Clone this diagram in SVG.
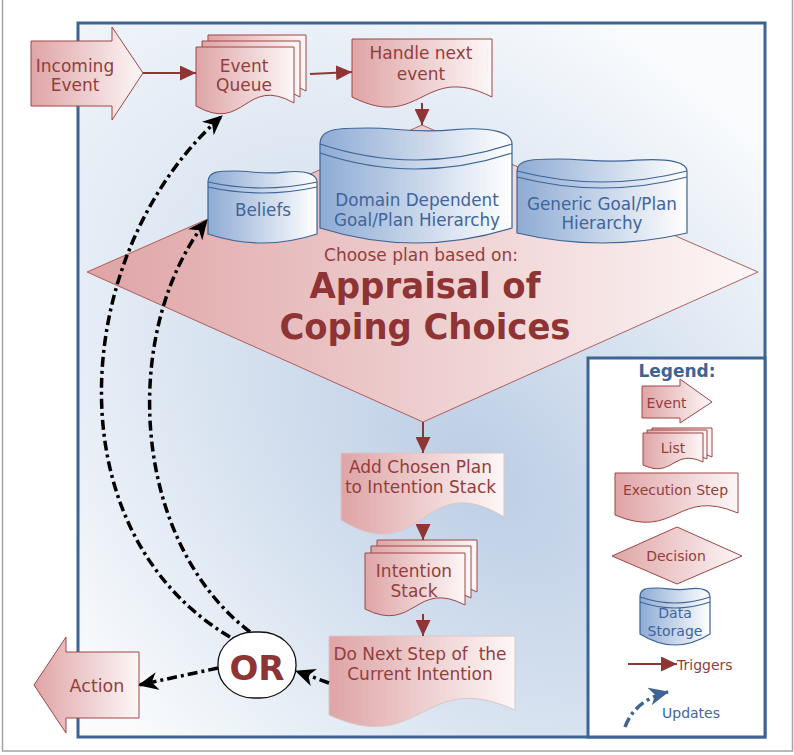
<svg xmlns="http://www.w3.org/2000/svg" width="794" height="755" viewBox="0 0 794 755">
  <style>
    .rf { fill: url(#redGrad); stroke: #9e4646; stroke-width: 1; }
    .rs { fill: url(#redGrad); stroke: #d8c6c8; stroke-width: 1; }
    .bf { fill: url(#blueGrad); stroke: #3d6494; stroke-width: 1.2; }
    .bl { fill: none; stroke: #3d6494; stroke-width: 1.2; }
    .t { font-family: "DejaVu Sans", Verdana, sans-serif; font-size: 17px; fill: #933e3e; text-anchor: middle; }
    .tb { fill: #3f659a; font-size: 16.8px; }
    .tl { font-size: 14px; }
    .big { font-family: "DejaVu Sans Condensed", "DejaVu Sans", sans-serif; font-stretch: condensed; font-size: 35px; font-weight: bold; fill: #8e3434; }
    .trig { fill: none; stroke: #8f3535; stroke-width: 2; marker-end: url(#trigHead); }
    .upd { fill: none; stroke: #000; stroke-width: 3.5; stroke-dasharray: 10 4 3 4; marker-end: url(#updHead); }
  </style>
  <defs>
    <linearGradient id="redGrad" x1="0" y1="0" x2="1" y2="0">
      <stop offset="0" stop-color="#dfa4a6"/>
      <stop offset="1" stop-color="#fdf7f7"/>
    </linearGradient>
    <linearGradient id="blueGrad" x1="0" y1="0" x2="1" y2="0">
      <stop offset="0" stop-color="#8eabd4"/>
      <stop offset="1" stop-color="#ffffff"/>
    </linearGradient>
    <radialGradient id="bgGrad" gradientUnits="userSpaceOnUse" cx="0" cy="0" r="1" gradientTransform="translate(480,470) rotate(45) scale(700,430)">
      <stop offset="0" stop-color="#bccee5"/>
      <stop offset="1" stop-color="#f9fbfd"/>
    </radialGradient>
    <marker id="trigHead" markerUnits="userSpaceOnUse" viewBox="0 0 16 15" markerWidth="16" markerHeight="15" refX="16" refY="7.5" orient="auto">
      <path d="M0,0 L16,7.5 L0,15 Z" fill="#8f3535"/>
    </marker>
    <marker id="updHead" markerUnits="userSpaceOnUse" viewBox="0 0 20 18" markerWidth="20" markerHeight="18" refX="19" refY="9" orient="auto">
      <path d="M0,0 L20,9 L0,18 L6,9 Z" fill="#000"/>
    </marker>
    <marker id="updHeadBlue" markerUnits="userSpaceOnUse" viewBox="0 0 20 18" markerWidth="20" markerHeight="18" refX="19" refY="9" orient="auto">
      <path d="M0,0 L20,9 L0,18 L6,9 Z" fill="#3d6494"/>
    </marker>
  </defs>

  <!-- page edge -->
  <path d="M2.5,0 V751 H792.5 V0" fill="none" stroke="#a3a3a3" stroke-width="1.5"/>

  <!-- agent boundary -->
  <rect id="frame" x="78" y="23" width="687" height="714" fill="url(#bgGrad)" stroke="#3d6494" stroke-width="3"/>

  <g id="incoming-event">
    <polygon class="rf" points="31,41 112,41 112,27 143,73 112,120 112,106 31,106"/>
    <text class="t" x="75" y="72">Incoming</text>
    <text class="t" x="75" y="91">Event</text>
  </g>

  <g id="event-queue">
    <path class="rf" transform="translate(12,-12)" d="M196,47 H294 V103 C245,75 245,134 196,106 Z"/>
    <path class="rf" transform="translate(6,-6)" d="M196,47 H294 V103 C245,75 245,134 196,106 Z"/>
    <path class="rf" d="M196,47 H294 V103 C245,75 245,134 196,106 Z"/>
    <text class="t" x="244" y="72">Event</text>
    <text class="t" x="244" y="91">Queue</text>
  </g>

  <g id="handle-next-event">
    <path class="rf" d="M352,39 H492 V97 C422,62 422,132 352,97 Z"/>
    <text class="t" x="421" y="59">Handle next</text>
    <text class="t" x="421" y="80">event</text>
  </g>

  <g id="appraisal">
    <polygon points="422,125 758,272 423,422 87,272" fill="url(#redGrad)" stroke="#a85050" stroke-width="0.9"/>
    <text class="t" x="421" y="261">Choose plan based on:</text>
    <text class="t big" x="425" y="298" textLength="231" lengthAdjust="spacingAndGlyphs">Appraisal of</text>
    <text class="t big" x="425" y="339" textLength="291" lengthAdjust="spacingAndGlyphs">Coping Choices</text>
  </g>

  <g id="beliefs">
    <path class="bf" d="M208,182 C208,171 218.9,171 235.25,171 C251.6,171 262.5,174.85 284.3,172.1 C306.1,169.9 317,174.3 317,182 V234 Q262.5,252 208,234 Z"/>
    <path class="bl" d="M208,182 Q262.5,194 317,182"/>
    <path class="bl" d="M208,187 Q262.5,199 317,187"/>
    <text class="t tb" x="263" y="216">Beliefs</text>
  </g>

  <g id="domain-hierarchy">
    <path class="bf" d="M320,144 C320,128 339.2,128 368,128 C396.8,128 416,133.6 454.4,129.6 C492.8,126.4 512,132.8 512,144 V228 Q416,258 320,228 Z"/>
    <path class="bl" d="M320,144 Q416,176 512,144"/>
    <path class="bl" d="M320,153 Q416,185 512,153"/>
    <text class="t tb" x="417" y="206">Domain Dependent</text>
    <text class="t tb" x="417" y="226">Goal/Plan Hierarchy</text>
  </g>

  <g id="generic-hierarchy">
    <path class="bf" d="M517,171 C517,159 534,159 559.5,159 C585,159 602,163.2 636,160.2 C670,157.8 687,162.6 687,171 V233 Q602,253 517,233 Z"/>
    <path class="bl" d="M517,171 Q602,193 687,171"/>
    <path class="bl" d="M517,177 Q602,199 687,177"/>
    <text class="t tb" x="602" y="210">Generic Goal/Plan</text>
    <text class="t tb" x="602" y="229">Hierarchy</text>
  </g>

  <g id="add-chosen-plan">
    <path class="rs" d="M341,453 H504 V517 C422.5,467 422.5,570 341,520 Z"/>
    <text class="t" x="420.5" y="473">Add Chosen Plan</text>
    <text class="t" x="420.5" y="493">to Intention Stack</text>
  </g>

  <g id="intention-stack">
    <path class="rf" transform="translate(12,-13)" d="M365,553 H465 V605 C415,579 415,634 365,609 Z"/>
    <path class="rf" transform="translate(6,-7)" d="M365,553 H465 V605 C415,579 415,634 365,609 Z"/>
    <path class="rf" d="M365,553 H465 V605 C415,579 415,634 365,609 Z"/>
    <text class="t" x="414" y="577">Intention</text>
    <text class="t" x="414" y="597">Stack</text>
  </g>

  <g id="do-next-step">
    <path class="rs" d="M329,636 H515 V710 C422,668 422,757 329,715 Z"/>
    <text class="t" x="420" y="660">Do Next Step of&#160; the</text>
    <text class="t" x="420" y="680">Current Intention</text>
  </g>

  <g id="action">
    <polygon class="rf" points="139,652 66,652 66,637 34,685 66,733 66,718 139,718"/>
    <text class="t" x="97" y="692" style="font-size:17.5px">Action</text>
  </g>

  <g id="connectors">
    <path class="trig" d="M143,73 L196,73"/>
    <path class="trig" d="M310,74 L352,72"/>
    <path class="trig" d="M422,103 L422,125"/>
    <path class="trig" d="M423,422 L423,453"/>
    <path class="trig" d="M423,528 L423,540"/>
    <path class="trig" d="M423,614 L423,636"/>
    <path class="upd" d="M230,637 C50,530 70,250 222,116"/>
    <path class="upd" d="M250,632 C130,540 120,330 207,220"/>
    <path class="upd" d="M218,668 L139,685"/>
    <path class="upd" d="M329,683 L296,671"/>
  </g>

  <g id="or-choice">
    <rect x="218" y="632" width="78" height="66" rx="36" ry="32" fill="#fff" stroke="#111" stroke-width="1.3"/>
    <text class="t" x="257" y="680" style="font-size:34px;font-weight:bold;fill:#8e3434">OR</text>
  </g>

  <g id="legend">
    <rect x="588" y="358" width="177" height="379" fill="#fff" stroke="#3d6494" stroke-width="3"/>
    <text class="t" x="677" y="377" style="font-size:17px;font-weight:bold;fill:#3d6494">Legend:</text>
    <polygon class="rf" points="642,386 680,386 680,379 712,402 680,423 680,418 642,418"/>
    <text class="t tl" x="666.5" y="408">Event</text>
    <path class="rf" transform="translate(9,-5)" d="M643,433 H703 V462 C673,448 673,479 643,465 Z"/>
    <path class="rf" transform="translate(4,-3)" d="M643,433 H703 V462 C673,448 673,479 643,465 Z"/>
    <path class="rf" d="M643,433 H703 V462 C673,448 673,479 643,465 Z"/>
    <text class="t tl" x="673" y="453">List</text>
    <path class="rf" d="M615,473 H738 V513 C676.5,487 676.5,541 615,515 Z"/>
    <text class="t tl" x="675.5" y="495">Execution Step</text>
    <polygon class="rf" points="677,527 742,556 677,584 612,556"/>
    <text class="t tl" x="676" y="561">Decision</text>
    <path class="bf" d="M640,597 C640,588 647,588 657.5,588 C668,588 675,591.15 689,588.9 C703,587.1 710,590.7 710,597 V634 Q675,656 640,634 Z"/>
    <path class="bl" d="M640,597 Q675,609 710,597"/>
    <path class="bl" d="M640,602 Q675,614 710,602"/>
    <text class="t tl" x="675" y="618" style="fill:#3f659a">Data</text>
    <text class="t tl" x="675" y="636" style="fill:#3f659a">Storage</text>
    <path class="trig" d="M628,664 L677,664"/>
    <text class="t tl" x="677" y="670" style="text-anchor:start">Triggers</text>
    <path d="M625,727 Q635,700 668,692" fill="none" stroke="#3d6494" stroke-width="3.5" stroke-dasharray="10 4 3 4" marker-end="url(#updHeadBlue)"/>
    <text class="t tl" x="662" y="718" style="text-anchor:start;fill:#3f659a">Updates</text>
  </g>
</svg>
